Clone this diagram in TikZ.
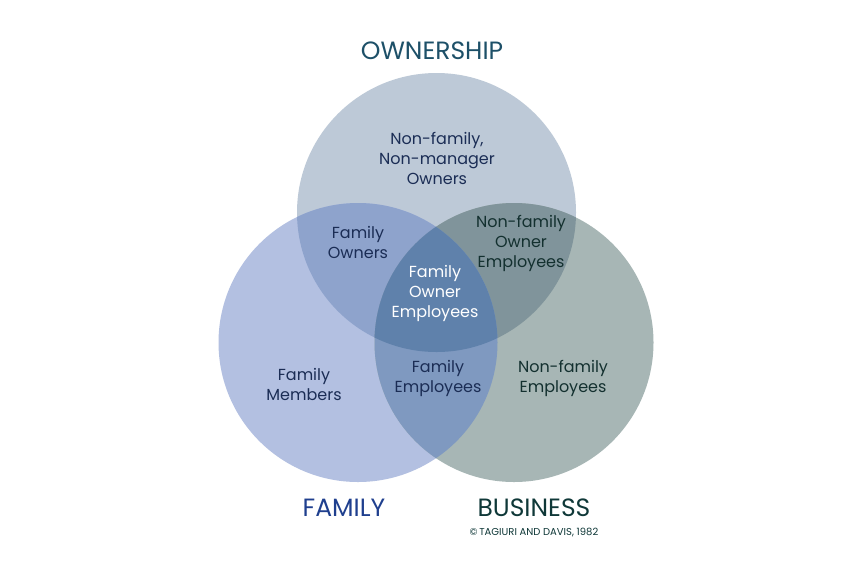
\documentclass[tikz,border=0pt]{standalone}
\usepackage{fontspec}
\setmainfont{Poppins}
\usetikzlibrary{positioning}

\definecolor{ownC}{HTML}{BDC9D7}
\definecolor{famC}{HTML}{B3C0E1}
\definecolor{busC}{HTML}{A7B6B5}
\definecolor{ofC}{HTML}{8EA3CC}
\definecolor{obC}{HTML}{80949B}
\definecolor{fbC}{HTML}{7F99C0}
\definecolor{allC}{HTML}{5F81AB}
\definecolor{txtC}{HTML}{1B2D55}
\definecolor{txtG}{HTML}{13302F}
\definecolor{ownT}{HTML}{1D5068}
\definecolor{famT}{HTML}{1F3F8E}
\definecolor{busT}{HTML}{0F3838}

\begin{document}
\begin{tikzpicture}[x=1pt,y=-1pt]
	\tikzstyle{every node}=[align=center,inner sep=0pt]
	\tikzstyle{lbl}=[font=\fontsize{16}{20}\selectfont,text=txtC]
	\tikzstyle{lblg}=[lbl,text=txtG]
	\tikzstyle{title}=[font=\fontsize{25}{28}\selectfont]

	\useasboundingbox[fill=white] (0,0) rectangle (866,571);

	% circles
	\fill[ownC] (436.5,212.5) circle (139.5pt);
	\fill[famC] (358,342.5) circle (139.5pt);
	\fill[busC] (514,342.5) circle (139.5pt);

	% overlaps
	\begin{scope}
		\clip (436.5,212.5) circle (139.5pt);
		\fill[ofC] (358,342.5) circle (139.5pt);
		\fill[obC] (514,342.5) circle (139.5pt);
	\end{scope}
	\begin{scope}
		\clip (358,342.5) circle (139.5pt);
		\fill[fbC] (514,342.5) circle (139.5pt);
		\clip (436.5,212.5) circle (139.5pt);
		\fill[allC] (514,342.5) circle (139.5pt);
	\end{scope}

	% titles
	\node[title,text=ownT] (own) at (432,51) {OWNERSHIP};
	\node[title,text=famT] (fam) at (344,508) {FAMILY};
	\node[title,text=busT] (bus) at (534,508) {BUSINESS};
	\node[font=\fontsize{10}{11}\selectfont,text=busT,below=11pt of bus] (cite) {\textcopyright\,TAGIURI AND DAVIS, 1982};

	% regions
	\node[lbl] (nfo) at (437,158) {Non-family,\\Non-manager\\Owners};
	\node[lbl] (fo) at (358,242) {Family\\Owners};
	\node[lblg] (nfoe) at (521,243) {Non-family\\Owner\\Employees};
	\node[lbl,text=white] (foe) at (435,293) {Family\\Owner\\Employees};
	\node[lbl] (fm) at (304,384) {Family\\Members};
	\node[lbl] (fe) at (438,378) {Family\\Employees};
	\node[lblg] (nfe) at (563,378) {Non-family\\Employees};
\end{tikzpicture}
\end{document}
